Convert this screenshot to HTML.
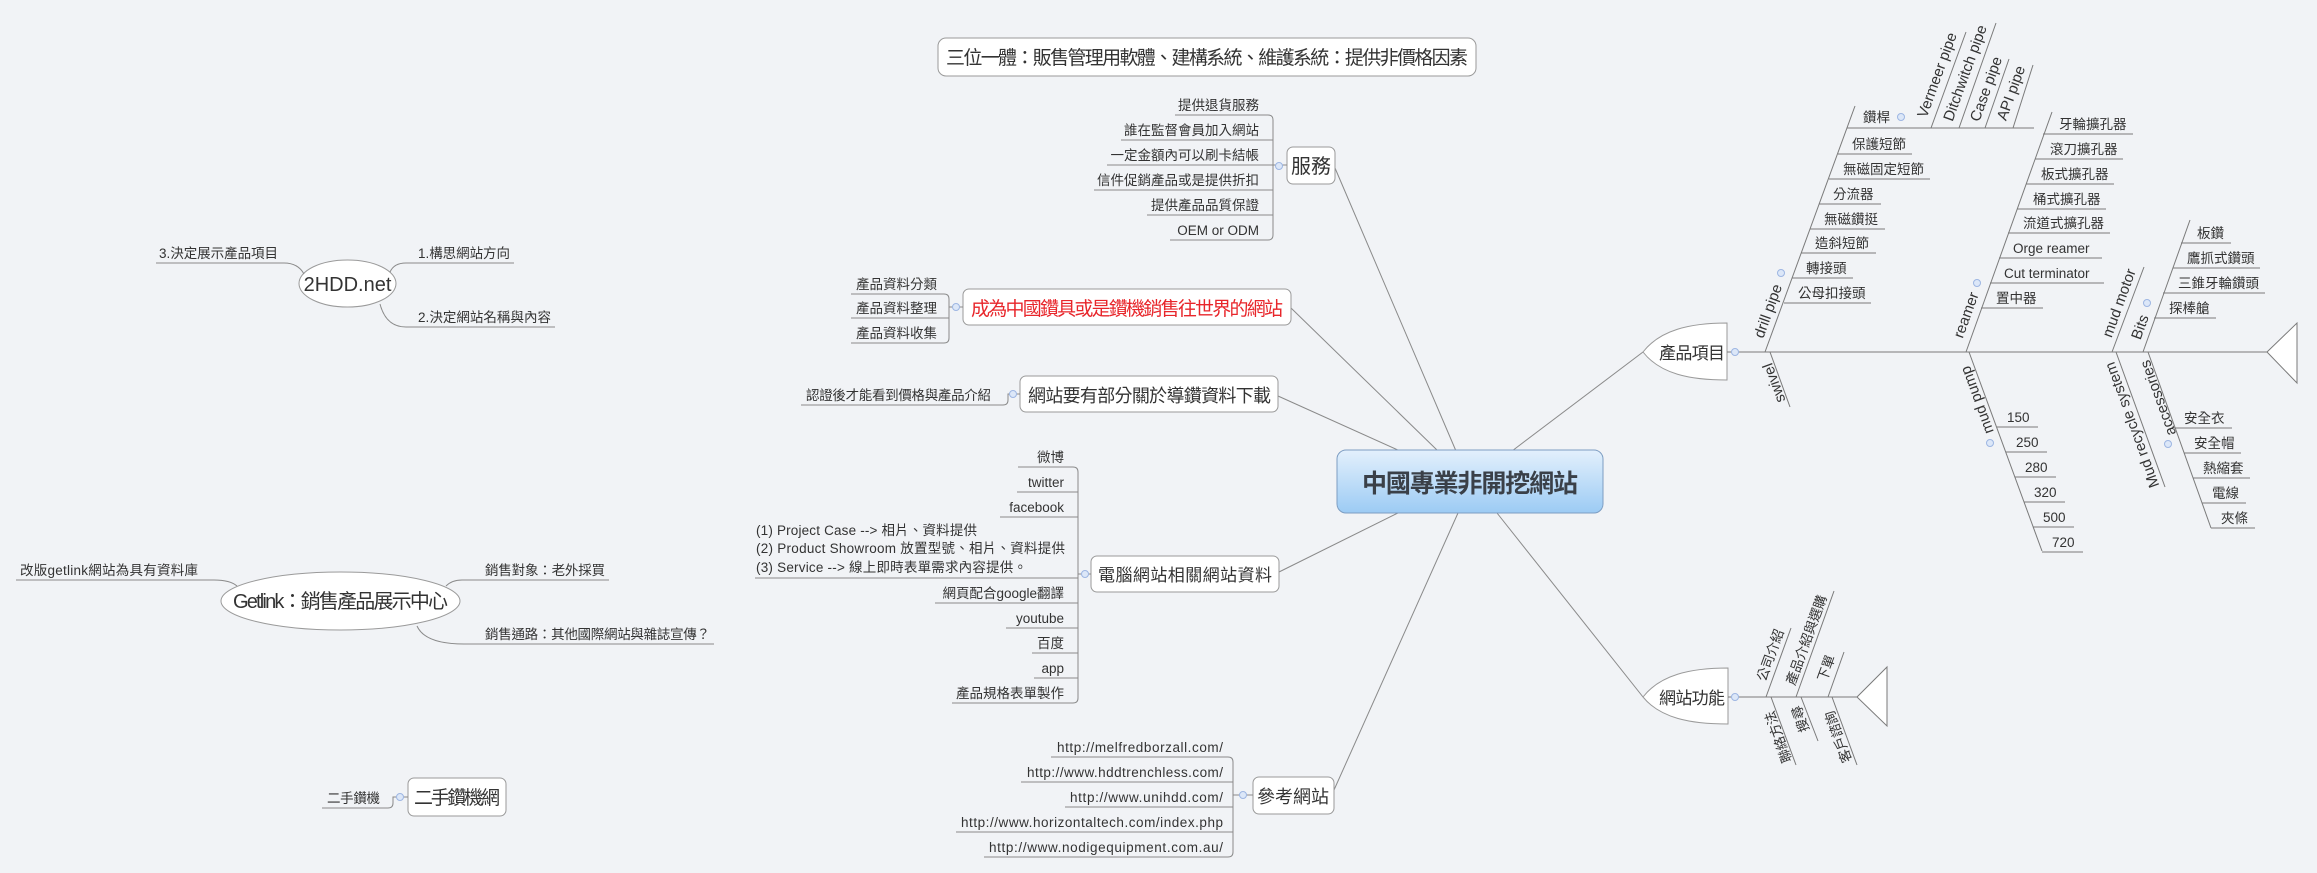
<!DOCTYPE html>
<html><head><meta charset="utf-8"><style>
html,body{margin:0;padding:0;background:#f1f3f6}
svg{display:block}
text{font-family:"Liberation Sans","Noto Sans CJK TC",sans-serif;fill:#333}
.c{font-size:13.5px}
.ln{stroke:#8a8a8a;stroke-width:1;fill:none}
.bx{fill:#fff;stroke:#9a9a9a;stroke-width:1}
.bl{font-size:15px}
.dot{fill:#dce7f8;stroke:#9db6e2;stroke-width:1}
</style></head><body>
<svg width="2317" height="873" viewBox="0 0 2317 873" xmlns="http://www.w3.org/2000/svg">
<defs>
<linearGradient id="g" x1="0" y1="0" x2="0" y2="1"><stop offset="0" stop-color="#e3f0fc"/><stop offset="1" stop-color="#9ccbf4"/></linearGradient>
</defs>
<rect width="2317" height="873" fill="#f1f3f6"/>

<!-- central connectors -->
<g class="ln">
<path d="M1335 168 L1456 451"/>
<path d="M1291 308 L1438 451"/>
<path d="M1278 396 L1400 451"/>
<path d="M1279 572 L1400 512"/>
<path d="M1334 790 L1458 513"/>
<path d="M1512 451 L1643 352"/>
<path d="M1497 513 L1643 697"/>
</g>

<!-- central -->
<rect x="1337" y="450" width="266" height="63" rx="9" fill="url(#g)" stroke="#7d9dc2"/>
<text x="1470" y="492" text-anchor="middle" font-size="25" font-weight="bold" textLength="216" style="fill:#3a4048">中國專業非開挖網站</text>

<!-- top box -->
<rect class="bx" x="938" y="38" width="538" height="38" rx="8"/>
<text x="946" y="64" font-size="19" textLength="522">三位一體：販售管理用軟體、建構系統、維護系統：提供非價格因素</text>

<!-- 服務 -->
<rect class="bx" x="1287" y="147" width="48" height="37" rx="6"/>
<text x="1311" y="173" text-anchor="middle" font-size="20">服務</text>
<g class="ln">
<path d="M1175 115 H1268 Q1273 115 1273 120 V235 Q1273 240 1268 240 H1170"/>
<path d="M1121 140 H1273 M1107 165 H1287 M1094 190 H1273 M1147 215 H1273"/>
</g>
<circle class="dot" cx="1279" cy="166" r="3.5"/>
<g class="c" text-anchor="end">
<text x="1259" y="110">提供退貨服務</text>
<text x="1259" y="135">誰在監督會員加入網站</text>
<text x="1259" y="160">一定金額內可以刷卡結帳</text>
<text x="1259" y="185">信件促銷產品或是提供折扣</text>
<text x="1259" y="210">提供產品品質保證</text>
<text x="1259" y="235">OEM or ODM</text>
</g>

<!-- 成為 -->
<rect class="bx" x="963" y="289" width="328" height="36" rx="6"/>
<text x="971" y="315" font-size="19" textLength="312" style="fill:#e8262b">成為中國鑽具或是鑽機銷售往世界的網站</text>
<g class="ln">
<path d="M851 294 H944 Q949 294 949 299 V338 Q949 343 944 343 H851 M851 318 H949 M949 307 H963"/>
</g>
<circle class="dot" cx="956" cy="307" r="3.5"/>
<g class="c">
<text x="856" y="289">產品資料分類</text>
<text x="856" y="313">產品資料整理</text>
<text x="856" y="338">產品資料收集</text>
</g>

<!-- 網站要有 -->
<rect class="bx" x="1020" y="376" width="258" height="36" rx="6"/>
<text x="1028" y="402" font-size="18" textLength="243">網站要有部分關於導鑽資料下載</text>
<path class="ln" d="M801 405 H1003 Q1008 405 1008 400 V394 H1020"/>
<circle class="dot" cx="1013" cy="394" r="3.5"/>
<text class="c" x="806" y="400" textLength="185">認證後才能看到價格與產品介紹</text>

<!-- 電腦網站相關網站資料 -->
<rect class="bx" x="1091" y="556" width="188" height="36" rx="6"/>
<text x="1098" y="581" font-size="17" textLength="174">電腦網站相關網站資料</text>
<g class="ln">
<path d="M1018 467 H1073 Q1078 467 1078 472 V698 Q1078 703 1073 703 H952"/>
<path d="M1017 492 H1078 M1000 517 H1078 M755 578 H1078 M935 603 H1078 M1006 628 H1078 M1032 653 H1078 M1034 678 H1078 M1078 574 H1091"/>
</g>
<circle class="dot" cx="1085" cy="574" r="3.5"/>
<g class="c" text-anchor="end">
<text x="1064" y="462">微博</text>
<text x="1064" y="487">twitter</text>
<text x="1064" y="512">facebook</text>
<text x="1064" y="598">網頁配合google翻譯</text>
<text x="1064" y="623">youtube</text>
<text x="1064" y="648">百度</text>
<text x="1064" y="673">app</text>
<text x="1064" y="698">產品規格表單製作</text>
</g>
<g class="c">
<text x="756" y="535" textLength="221">(1) Project Case --&gt; 相片、資料提供</text>
<text x="756" y="553" textLength="309">(2) Product Showroom 放置型號、相片、資料提供</text>
<text x="756" y="572" textLength="271">(3) Service --&gt; 線上即時表單需求內容提供。</text>
</g>

<!-- 參考網站 -->
<rect class="bx" x="1253" y="777" width="81" height="37" rx="6"/>
<text x="1293" y="803" text-anchor="middle" font-size="18">參考網站</text>
<g class="ln">
<path d="M1051 757 H1228 Q1233 757 1233 762 V852 Q1233 857 1228 857 H984"/>
<path d="M1021 782 H1233 M1065 807 H1233 M956 832 H1233 M1233 795 H1253"/>
</g>
<circle class="dot" cx="1243" cy="795" r="3.5"/>
<g class="c" text-anchor="end">
<text x="1223" y="752" textLength="166">http://melfredborzall.com/</text>
<text x="1223" y="777" textLength="196">http://www.hddtrenchless.com/</text>
<text x="1223" y="802" textLength="153">http://www.unihdd.com/</text>
<text x="1223" y="827" textLength="262">http://www.horizontaltech.com/index.php</text>
<text x="1223" y="852" textLength="234">http://www.nodigequipment.com.au/</text>
</g>

<!-- 二手鑽機網 -->
<rect class="bx" x="408" y="778" width="98" height="38" rx="6"/>
<text x="457" y="804" text-anchor="middle" font-size="19" textLength="86">二手鑽機網</text>
<path class="ln" d="M322 808 H388 Q393 808 393 803 V797 H408"/>
<circle class="dot" cx="400" cy="797" r="3.5"/>
<text class="c" x="327" y="803" textLength="53">二手鑽機</text>

<!-- 2HDD.net -->
<ellipse class="bx" cx="347.5" cy="283.5" rx="48.5" ry="23.5"/>
<text x="347.5" y="291" text-anchor="middle" font-size="20">2HDD.net</text>
<g class="ln">
<path d="M156 263 H284 Q298 263 304 274"/>
<path d="M390 272 Q394 263 406 263 H514"/>
<path d="M380 304 Q386 327 406 327 H555"/>
</g>
<g class="c">
<text x="159" y="258" textLength="119">3.決定展示產品項目</text>
<text x="418" y="258" textLength="92">1.構思網站方向</text>
<text x="418" y="322" textLength="133">2.決定網站名稱與內容</text>
</g>

<!-- Getlink -->
<ellipse class="bx" cx="340.5" cy="601" rx="119.5" ry="29"/>
<text x="340.5" y="608" text-anchor="middle" font-size="20" textLength="215">Getlink：銷售產品展示中心</text>
<g class="ln">
<path d="M16 580 H214 Q230 580 237 586"/>
<path d="M446 586 Q452 580 462 580 H609"/>
<path d="M417 626 Q425 644 464 644 H714"/>
</g>
<g class="c">
<text x="20" y="575" textLength="178">改版getlink網站為具有資料庫</text>
<text x="485" y="575" textLength="120">銷售對象：老外採買</text>
<text x="485" y="639" textLength="225">銷售通路：其他國際網站與雜誌宣傳？</text>
</g>

<!-- 產品項目 fishbone -->
<path class="bx" d="M1643 352 C1660 330 1690 323 1727 323 L1727 380 C1690 380 1660 374 1643 352 Z"/>
<text x="1659" y="359" font-size="17" textLength="66">產品項目</text>
<g class="ln" style="stroke:#7a7a7a">
<path d="M1727 352 H2267"/>
<polygon points="2267,352 2297,323 2297,383" fill="#fff"/>
<!-- drill pipe -->
<path d="M1765 352 L1855 106"/>
<path d="M1847 128 H2034 M1838 154 H1912 M1829 179 H1930 M1819 204 H1881 M1810 229 H1885 M1801 253 H1876 M1792 278 H1853 M1784 303 H1871"/>
<path d="M1931 128 L1966 32 M1959 128 L1996 23 M1985 128 L2009 59 M2013 128 L2033 65"/>
<path d="M1770 352 L1790 407"/>
<!-- reamer -->
<path d="M1966 352 L2052 112"/>
<path d="M2043 134 H2133 M2035 159 H2123 M2026 184 H2114 M2017 209 H2106 M2008 233 H2110 M1999 258 H2102 M1990 283 H2104 M1981 308 H2043"/>
<!-- mud pump -->
<path d="M1969 352 L2042 551"/>
<path d="M1997 427 H2038 M2006 452 H2047 M2015 477 H2056 M2024 502 H2065 M2033 527 H2074 M2042 552 H2083"/>
<!-- mud motor / Bits -->
<path d="M2112 352 L2144 267"/>
<path d="M2143 352 L2190 220"/>
<path d="M2181 243 H2231 M2173 268 H2260 M2163 293 H2265 M2154 318 H2216"/>
<!-- recycle / accessories -->
<path d="M2116 352 L2165 487"/>
<path d="M2148 352 L2211 528"/>
<path d="M2174 428 H2232 M2184 453 H2241 M2193 478 H2250 M2202 503 H2246 M2211 528 H2255"/>
</g>
<g class="dot">
<circle cx="1735" cy="352" r="3.5"/><circle cx="1781" cy="273" r="3.5"/><circle cx="1901" cy="117" r="3.5"/>
<circle cx="1977" cy="283" r="3.5"/><circle cx="1990" cy="443" r="3.5"/><circle cx="2147" cy="303" r="3.5"/><circle cx="2168" cy="444" r="3.5"/>
</g>
<g class="c">
<text x="1863" y="122">鑽桿</text>
<text x="1852" y="149">保護短節</text>
<text x="1843" y="174">無磁固定短節</text>
<text x="1833" y="199">分流器</text>
<text x="1824" y="224">無磁鑽挺</text>
<text x="1815" y="248">造斜短節</text>
<text x="1806" y="273">轉接頭</text>
<text x="1798" y="298">公母扣接頭</text>
<text x="2059" y="129">牙輪擴孔器</text>
<text x="2050" y="154">滾刀擴孔器</text>
<text x="2041" y="179">板式擴孔器</text>
<text x="2033" y="204">桶式擴孔器</text>
<text x="2023" y="228">流道式擴孔器</text>
<text x="2013" y="253">Orge reamer</text>
<text x="2004" y="278">Cut terminator</text>
<text x="1996" y="303">置中器</text>
<text x="2007" y="422">150</text>
<text x="2016" y="447">250</text>
<text x="2025" y="472">280</text>
<text x="2034" y="497">320</text>
<text x="2043" y="522">500</text>
<text x="2052" y="547">720</text>
<text x="2197" y="238">板鑽</text>
<text x="2187" y="263">鷹抓式鑽頭</text>
<text x="2178" y="288">三錐牙輪鑽頭</text>
<text x="2169" y="313">探棒艙</text>
<text x="2184" y="423">安全衣</text>
<text x="2194" y="448">安全帽</text>
<text x="2203" y="473">熱縮套</text>
<text x="2212" y="498">電線</text>
<text x="2221" y="523">夾條</text>
</g>
<g class="bl" text-anchor="middle">
<text transform="translate(1768,311) rotate(-70)" dy="5">drill pipe</text>
<text transform="translate(1774,383) rotate(-110)" dy="5">swivel</text>
<text transform="translate(1937,75) rotate(-70)" dy="5">Vermeer pipe</text>
<text transform="translate(1965,73) rotate(-70)" dy="5">Ditchwitch pipe</text>
<text transform="translate(1986,89) rotate(-70)" dy="5">Case pipe</text>
<text transform="translate(2011,93) rotate(-70)" dy="5">API pipe</text>
<text transform="translate(1966,315) rotate(-70)" dy="5">reamer</text>
<text transform="translate(1977,400) rotate(-110)" dy="5">mud pump</text>
<text transform="translate(2119,303) rotate(-70)" dy="5">mud motor</text>
<text transform="translate(2140,327) rotate(-70)" dy="5">Bits</text>
<text transform="translate(2132,425) rotate(-110)" dy="5">Mud recycle system</text>
<text transform="translate(2158,398) rotate(-110)" dy="5">accessories</text>
</g>

<!-- 網站功能 fishbone -->
<path class="bx" d="M1643 697 C1660 675 1690 668 1728 668 L1728 724 C1690 724 1660 718 1643 697 Z"/>
<text x="1659" y="704" font-size="17" textLength="66">網站功能</text>
<g class="ln" style="stroke:#7a7a7a">
<path d="M1728 697 H1857"/>
<polygon points="1857,697 1887,667 1887,726" fill="#fff"/>
<path d="M1766 697 L1791 628 M1796 697 L1834 591 M1828 697 L1844 652"/>
<path d="M1771 697 L1796 765 M1801 697 L1818 741 M1832 697 L1857 765"/>
</g>
<circle class="dot" cx="1735" cy="697" r="3.5"/>
<g class="c" text-anchor="middle">
<text transform="translate(1770,655) rotate(-70)" dy="5">公司介紹</text>
<text transform="translate(1806,640) rotate(-70)" dy="5">產品介紹與選購</text>
<text transform="translate(1826,668) rotate(-70)" dy="5">下單</text>
<text transform="translate(1778,737) rotate(-110)" dy="5">聯絡方法</text>
<text transform="translate(1800,719) rotate(-110)" dy="5">搜尋</text>
<text transform="translate(1838,737) rotate(-110)" dy="5">客戶諮詢</text>
</g>
</svg>
</body></html>
